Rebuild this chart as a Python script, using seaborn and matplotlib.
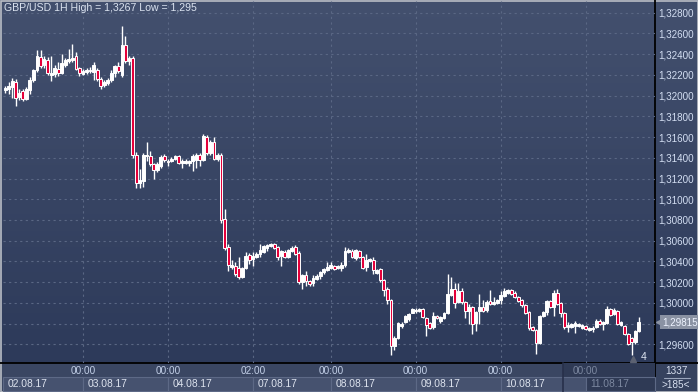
import numpy as np
import matplotlib
matplotlib.use("Agg")
import matplotlib.pyplot as plt
import matplotlib.transforms as mtransforms
from matplotlib.patches import Rectangle
from matplotlib.colors import LinearSegmentedColormap
import seaborn as sns

# GBP/USD hourly candles
opens = [
    1.3205, 1.3206, 1.3208, 1.3213, 1.3199, 1.3204, 1.3197, 1.3205, 1.3215, 1.3225, 1.3237, 1.3230,
    1.3234, 1.3220, 1.3221, 1.3226, 1.3222, 1.3230, 1.3233, 1.3234, 1.3238, 1.3227, 1.3221, 1.3223,
    1.3224, 1.3223, 1.3225, 1.3216, 1.3210, 1.3212, 1.3215, 1.3222, 1.3229, 1.3220, 1.3249, 1.3233,
    1.3236, 1.3143, 1.3116, 1.3118, 1.3142, 1.3142, 1.3134, 1.3128, 1.3132, 1.3142, 1.3137, 1.3137,
    1.3139, 1.3142, 1.3135, 1.3135, 1.3135, 1.3137, 1.3138, 1.3143, 1.3138, 1.3160, 1.3145, 1.3155,
    1.3139, 1.3143, 1.3081, 1.3054, 1.3035, 1.3036, 1.3034, 1.3025, 1.3034, 1.3046, 1.3042, 1.3044,
    1.3047, 1.3049, 1.3053, 1.3055, 1.3057, 1.3054, 1.3045, 1.3049, 1.3044, 1.3050, 1.3054, 1.3048,
    1.3020, 1.3027, 1.3021, 1.3019, 1.3023, 1.3026, 1.3030, 1.3032, 1.3034, 1.3036, 1.3034, 1.3034,
    1.3037, 1.3049, 1.3050, 1.3043, 1.3050, 1.3044, 1.3035, 1.3040, 1.3041, 1.3029, 1.3033, 1.3022,
    1.3013, 1.3003, 1.2958, 1.2966, 1.2978, 1.2982, 1.2984, 1.2990, 1.2992, 1.2992, 1.2994, 1.2985,
    1.2981, 1.2977, 1.2987, 1.2983, 1.2985, 1.2990, 1.3008, 1.3013, 1.3001, 1.3011, 1.3001, 1.2992,
    1.2996, 1.2981, 1.2992, 1.2996, 1.2993, 1.3002, 1.2999, 1.3000, 1.3003, 1.3007, 1.3010, 1.3012,
    1.3010, 1.3006, 1.3003, 1.2998, 1.2991, 1.2977, 1.2974, 1.2961, 1.2987, 1.2991, 1.3002, 1.2996,
    1.3010, 1.3000, 1.2990, 1.2977, 1.2977, 1.2978, 1.2978, 1.2976, 1.2978, 1.2974, 1.2975, 1.2977,
    1.2983, 1.2980, 1.2981, 1.2994, 1.2989, 1.2992, 1.2979, 1.2978, 1.2970, 1.2966, 1.2962, 1.2973,
]
highs = [
    1.3209, 1.3213, 1.3217, 1.3216, 1.3206, 1.3206, 1.3208, 1.3218, 1.3226, 1.3244, 1.3244, 1.3238,
    1.3237, 1.3238, 1.3230, 1.3232, 1.3240, 1.3236, 1.3245, 1.3250, 1.3242, 1.3228, 1.3226, 1.3227,
    1.3228, 1.3232, 1.3227, 1.3218, 1.3215, 1.3217, 1.3225, 1.3230, 1.3232, 1.3267, 1.3258, 1.3238,
    1.3238, 1.3146, 1.3129, 1.3145, 1.3155, 1.3147, 1.3135, 1.3136, 1.3143, 1.3144, 1.3139, 1.3141,
    1.3143, 1.3143, 1.3139, 1.3139, 1.3138, 1.3144, 1.3145, 1.3145, 1.3163, 1.3162, 1.3157, 1.3160,
    1.3145, 1.3145, 1.3091, 1.3057, 1.3041, 1.3039, 1.3044, 1.3035, 1.3049, 1.3048, 1.3049, 1.3049,
    1.3057, 1.3056, 1.3057, 1.3058, 1.3058, 1.3055, 1.3051, 1.3051, 1.3052, 1.3055, 1.3056, 1.3050,
    1.3028, 1.3031, 1.3022, 1.3027, 1.3028, 1.3031, 1.3034, 1.3039, 1.3039, 1.3037, 1.3037, 1.3039,
    1.3054, 1.3053, 1.3052, 1.3052, 1.3051, 1.3045, 1.3047, 1.3043, 1.3044, 1.3033, 1.3034, 1.3023,
    1.3015, 1.3004, 1.2968, 1.2982, 1.2982, 1.2988, 1.2990, 1.2995, 1.2995, 1.2995, 1.2995, 1.2986,
    1.2982, 1.2991, 1.2988, 1.2987, 1.2991, 1.3028, 1.3025, 1.3019, 1.3019, 1.3014, 1.3002, 1.2999,
    1.2997, 1.2992, 1.3009, 1.3003, 1.3003, 1.3012, 1.3006, 1.3004, 1.3011, 1.3014, 1.3013, 1.3013,
    1.3011, 1.3007, 1.3004, 1.2999, 1.2992, 1.2978, 1.2975, 1.2988, 1.2992, 1.3003, 1.3003, 1.3012,
    1.3013, 1.3001, 1.2991, 1.2982, 1.2981, 1.2983, 1.2981, 1.2980, 1.2979, 1.2977, 1.2978, 1.2984,
    1.2984, 1.2983, 1.2997, 1.2995, 1.2995, 1.2993, 1.2983, 1.2979, 1.2971, 1.2967, 1.2974, 1.2986,
]
lows = [
    1.3203, 1.3202, 1.3198, 1.3190, 1.3196, 1.3195, 1.3196, 1.3202, 1.3213, 1.3223, 1.3227, 1.3227,
    1.3220, 1.3214, 1.3218, 1.3219, 1.3221, 1.3228, 1.3231, 1.3232, 1.3225, 1.3219, 1.3220, 1.3221,
    1.3222, 1.3215, 1.3214, 1.3206, 1.3208, 1.3210, 1.3213, 1.3218, 1.3222, 1.3218, 1.3231, 1.3230,
    1.3140, 1.3111, 1.3111, 1.3112, 1.3137, 1.3132, 1.3120, 1.3126, 1.3130, 1.3136, 1.3132, 1.3136,
    1.3138, 1.3134, 1.3130, 1.3134, 1.3132, 1.3127, 1.3130, 1.3132, 1.3137, 1.3143, 1.3143, 1.3138,
    1.3137, 1.3077, 1.3051, 1.3031, 1.3033, 1.3026, 1.3023, 1.3024, 1.3033, 1.3038, 1.3036, 1.3043,
    1.3044, 1.3048, 1.3050, 1.3054, 1.3052, 1.3041, 1.3036, 1.3043, 1.3043, 1.3049, 1.3046, 1.3018,
    1.3013, 1.3016, 1.3016, 1.3016, 1.3022, 1.3023, 1.3028, 1.3031, 1.3033, 1.3032, 1.3033, 1.3031,
    1.3035, 1.3048, 1.3043, 1.3041, 1.3043, 1.3033, 1.3031, 1.3039, 1.3028, 1.3028, 1.3020, 1.3007,
    1.2999, 1.2950, 1.2955, 1.2965, 1.2976, 1.2981, 1.2983, 1.2990, 1.2990, 1.2991, 1.2985, 1.2968,
    1.2975, 1.2975, 1.2984, 1.2981, 1.2984, 1.2989, 1.3007, 1.2995, 1.3000, 1.2999, 1.2985, 1.2980,
    1.2970, 1.2973, 1.2980, 1.2991, 1.2991, 1.2998, 1.2998, 1.2999, 1.2999, 1.3006, 1.3009, 1.3008,
    1.3005, 1.3001, 1.2996, 1.2989, 1.2974, 1.2973, 1.2951, 1.2960, 1.2986, 1.2988, 1.2995, 1.2987,
    1.2998, 1.2986, 1.2975, 1.2972, 1.2976, 1.2971, 1.2977, 1.2975, 1.2974, 1.2973, 1.2972, 1.2976,
    1.2979, 1.2974, 1.2980, 1.2987, 1.2988, 1.2979, 1.2978, 1.2969, 1.2959, 1.2950, 1.2960, 1.2972,
]
closes = [
    1.3207, 1.3209, 1.3214, 1.3198, 1.3203, 1.3197, 1.3206, 1.3215, 1.3225, 1.3238, 1.3229, 1.3235,
    1.3222, 1.3222, 1.3227, 1.3222, 1.3231, 1.3234, 1.3235, 1.3236, 1.3226, 1.3222, 1.3224, 1.3225,
    1.3225, 1.3230, 1.3216, 1.3209, 1.3213, 1.3215, 1.3222, 1.3229, 1.3224, 1.3249, 1.3233, 1.3236,
    1.3143, 1.3116, 1.3119, 1.3143, 1.3143, 1.3134, 1.3128, 1.3134, 1.3141, 1.3138, 1.3136, 1.3139,
    1.3142, 1.3135, 1.3137, 1.3137, 1.3137, 1.3142, 1.3143, 1.3138, 1.3161, 1.3145, 1.3155, 1.3139,
    1.3143, 1.3080, 1.3053, 1.3037, 1.3037, 1.3028, 1.3025, 1.3034, 1.3045, 1.3041, 1.3045, 1.3047,
    1.3051, 1.3055, 1.3056, 1.3057, 1.3053, 1.3044, 1.3050, 1.3044, 1.3051, 1.3053, 1.3047, 1.3020,
    1.3027, 1.3021, 1.3018, 1.3024, 1.3026, 1.3030, 1.3033, 1.3035, 1.3037, 1.3033, 1.3036, 1.3037,
    1.3050, 1.3051, 1.3044, 1.3051, 1.3044, 1.3034, 1.3041, 1.3042, 1.3032, 1.3032, 1.3022, 1.3012,
    1.3003, 1.2958, 1.2966, 1.2981, 1.2980, 1.2987, 1.2989, 1.2994, 1.2993, 1.2994, 1.2986, 1.2979,
    1.2976, 1.2987, 1.2985, 1.2986, 1.2990, 1.3009, 1.3013, 1.3000, 1.3011, 1.3001, 1.2992, 1.2996,
    1.2980, 1.2991, 1.2996, 1.2992, 1.3001, 1.2999, 1.3001, 1.3003, 1.3008, 1.3011, 1.3012, 1.3009,
    1.3006, 1.3002, 1.2998, 1.2990, 1.2976, 1.2974, 1.2961, 1.2987, 1.2991, 1.3002, 1.2996, 1.3010,
    1.2999, 1.2990, 1.2977, 1.2979, 1.2980, 1.2981, 1.2980, 1.2979, 1.2975, 1.2976, 1.2976, 1.2983,
    1.2980, 1.2982, 1.2994, 1.2988, 1.2993, 1.2980, 1.2982, 1.2970, 1.2960, 1.2962, 1.2973, 1.2982,
]

# time axis: candle index of each session tick, and the day boxes
tick_pos = [22, 46, 70, 92, 116, 140, 164]
tick_labels = ["00:00", "00:00", "02:00", "00:00", "00:00", "00:00", "00:00"]
day_starts = [0, 22, 46, 70, 92, 116, 140, 164]
day_labels = ["02.08.17", "03.08.17", "04.08.17", "07.08.17",
              "08.08.17", "09.08.17", "10.08.17", "11.08.17"]
price_ticks = [1.296, 1.298, 1.300, 1.302, 1.304, 1.306, 1.308, 1.310, 1.312,
               1.314, 1.316, 1.318, 1.320, 1.322, 1.324, 1.326, 1.328]
last_price = 1.29815

df_open = np.array(opens)
df_close = np.array(closes)
idx = np.arange(len(opens))

sns.set_theme(style="dark", rc={"axes.facecolor": "none", "figure.facecolor": "#2d3a5a"})
plt.rcParams["font.family"] = ["Liberation Sans", "DejaVu Sans"]

W, H = 698, 392
fig = plt.figure(figsize=(W / 100, H / 100), dpi=100)

# background panel (pixel coordinates)
bg = fig.add_axes([0, 0, 1, 1])
bg.set_xlim(0, W)
bg.set_ylim(H, 0)
bg.axis("off")
cmap = LinearSegmentedColormap.from_list("bgc", ["#43506e", "#2d3a5a"])
bg.imshow(np.linspace(0, 1, 256).reshape(-1, 1), extent=[0, W, 363, 0],
          aspect="auto", cmap=cmap)
bg.add_patch(Rectangle((0, 363), W, 29, fc="#3a4662", ec="none"))
bg.add_patch(Rectangle((655, 363), 43, 29, fc="#36425e", ec="none"))
bg.plot([655, 655], [0, H], color="black", lw=1.3)
bg.plot([0, W], [363, 363], color="black", lw=1.3)
bg.add_patch(Rectangle((0.5, 0.5), W - 1, H - 1, fill=False, ec="#b9bdc5", lw=1.2))
bg.plot([664, 690], [378, 378], color="#9aa5bb", lw=0.8)

ax = fig.add_axes([3 / W, 29 / H, 652 / W, 362 / H])
ax.set_axisbelow(True)
ax.set_xlim(-0.6, 183.6)
ax.set_ylim(1.2942, 1.32913)

up = df_close >= df_open
ax.vlines(idx, lows, highs, color="white", lw=1.0, zorder=2)
ax.bar(idx, np.abs(df_close - df_open), bottom=np.minimum(df_open, df_close),
       width=0.8, color=np.where(up, "white", "#e4003a"), edgecolor="white",
       linewidth=0.7, zorder=3)

# grid and axes
for s in ax.spines.values():
    s.set_visible(False)
ax.set_xticks(tick_pos)
ax.set_xticklabels(tick_labels)
ax.set_yticks(price_ticks)
ax.set_yticklabels(["" if abs(p - 1.298) < 1e-9 else f"{p:.5f}".replace(".", ",")
                    for p in price_ticks])
ax.yaxis.tick_right()
ax.grid(True, color="#5a6784", linestyle=(0, (2, 3)), linewidth=0.8)
ax.tick_params(axis="y", length=0, pad=2.5, labelsize=7.1, labelcolor="#d3def2")
ax.tick_params(axis="x", length=0, pad=2.5, labelsize=7.2, labelcolor="#c3d0e8")
ax.get_xticklabels()[-1].set_color("#7c88a0")

trans = mtransforms.blended_transform_factory(ax.transData, ax.transAxes)
ends = day_starts[1:] + [183.6]
for i, (s, e, lab) in enumerate(zip(day_starts, ends, day_labels)):
    x0 = s if s > 0 else -0.6
    last = i == len(day_labels) - 1
    ax.add_patch(Rectangle((x0, -0.076), e - x0, 0.037, transform=trans,
                           fc="#2f3a55" if last else "#46526f",
                           ec="#5d6986", lw=0.8, clip_on=False, zorder=0.2))
    ax.text(x0 + 1.4, -0.058, lab, transform=trans, fontsize=7.4,
            color="#7c88a0" if last else "#dde3ee", va="center", ha="left",
            clip_on=False, zorder=1)
ax.add_patch(Rectangle((157.6, -0.081), 183.6 - 157.6, 0.081, transform=trans,
                       fc="#2f3a55", ec="none", clip_on=False, zorder=0.1))
ax.axvline(157.6, ymin=-0.081, ymax=0, color="#27304a", lw=1.2, clip_on=False)

# labels
ax.text(0.0015, 0.981, "GBP/USD 1H High = 1,3267 Low = 1,295", transform=ax.transAxes,
        fontsize=7.6, color="#dbe3f0", va="center", ha="left")
ptrans = mtransforms.blended_transform_factory(ax.transAxes, ax.transData)
ax.plot([1.0075], [last_price], marker="<", ms=6, color="#8a92a3", transform=ptrans,
        clip_on=False, zorder=4)
ax.text(1.0105, last_price, f"{last_price:.5f}".replace(".", ","), transform=ptrans,
        fontsize=7.1, color="#eef3ff", va="center", ha="left", clip_on=False, zorder=5,
        bbox=dict(boxstyle="square,pad=0.2", fc="#8a92a3", ec="none"))
ax.plot([0.966], [0.011], marker="^", ms=4, color="#5c6272", transform=ax.transAxes,
        clip_on=False)
ax.text(0.982, 0.016, "4", transform=ax.transAxes, fontsize=7.5, color="#dfe6f2",
        va="center", ha="center")
fig.text(676 / W, 1 - 371 / H, "1337", fontsize=7.2, color="#d8e0f0", ha="center", va="center")
fig.text(676 / W, 1 - 385 / H, ">185<", fontsize=7.2, color="#d8e0f0", ha="center", va="center")

fig.savefig("out.png", dpi=100)
